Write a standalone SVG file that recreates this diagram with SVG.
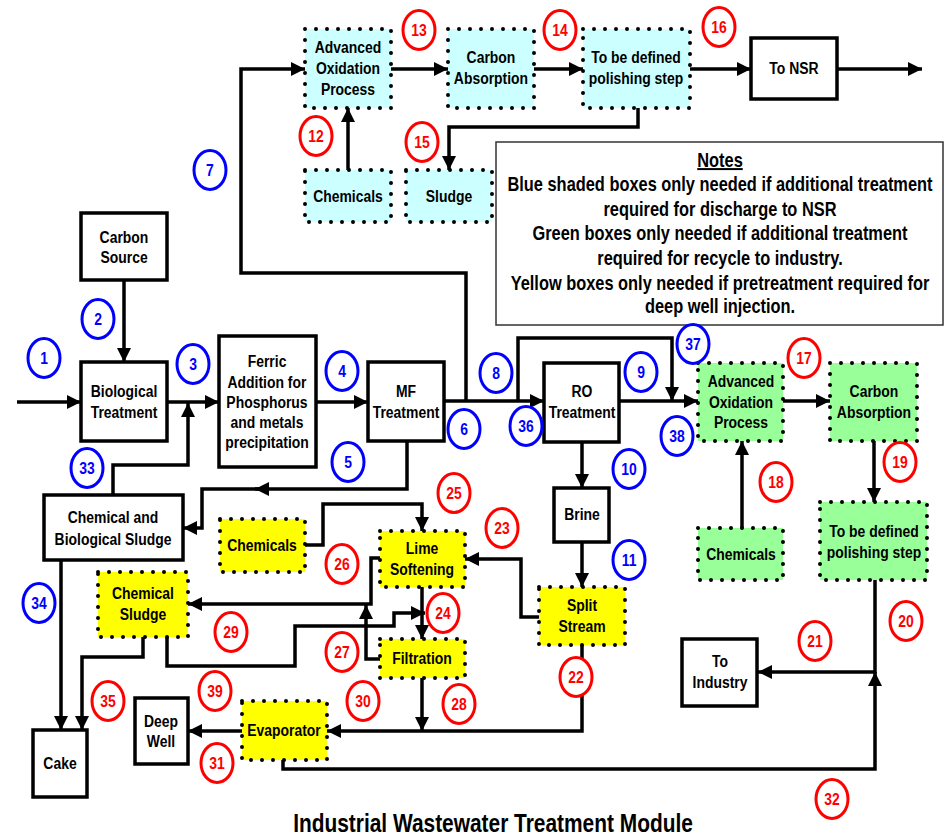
<svg xmlns="http://www.w3.org/2000/svg" width="950" height="839" viewBox="0 0 950 839">
<defs>
<marker id="ah" viewBox="0 0 14 14" refX="14" refY="7" markerWidth="14" markerHeight="14" markerUnits="userSpaceOnUse" orient="auto"><path d="M0,0 L14,7 L0,14 z" fill="#000"/></marker>
</defs>
<style>
.b{fill:#fff;stroke:#000;stroke-width:3.5}
.dot{stroke:#000;stroke-width:4;stroke-linecap:round;stroke-dasharray:0 11}
.cy{fill:#ccffff}
.gr{fill:#99ff99}
.ye{fill:#ffff00}
text{font-family:'Liberation Sans',Arial,sans-serif;font-weight:bold;text-anchor:middle;fill:#000;transform-box:fill-box;transform-origin:50% 50%;transform:scaleX(0.82)}
.t{font-size:17px}
.nt{font-size:20px}
.ttl{font-size:25.5px}
#connectors path{fill:none;stroke:#000;stroke-width:3.5;stroke-linejoin:miter}
.ar{marker-end:url(#ah)}
.lab ellipse{fill:#fff;stroke-width:3}
.lab text{font-size:17px}
.bl ellipse{stroke:#0000ff}
.bl text{fill:#0000ff}
.rd ellipse{stroke:#ff0000}
.rd text{fill:#ff0000}
</style>
<rect width="950" height="839" fill="#fff"/>

<g id="connectors">
<path class="ar" d="M17,402 H81"/>
<path class="ar" d="M124,280 V362"/>
<path class="ar" d="M167,402 H219"/>
<path class="ar" d="M316,402 H368"/>
<path class="ar" d="M444,401 H544"/>
<path class="ar" d="M466,401 V273 H241 V69 H305"/>
<path class="ar" d="M518,401 V338 H672 V401"/>
<path class="ar" d="M619,401 H698"/>
<path class="ar" d="M783,401 H830"/>
<path class="ar" d="M874,441 V502"/>
<path class="ar" d="M742,528 V441"/>
<path class="ar" d="M582,442 V488"/>
<path class="ar" d="M582,542 V587"/>
<path class="ar" d="M875,580 V672 H758"/>
<path class="ar" d="M283,760 V769 H875 V672"/>
<path class="ar" d="M391,69 H448"/>
<path class="ar" d="M534,69 H583"/>
<path class="ar" d="M690,69 H751"/>
<path class="ar" d="M837,69 H922"/>
<path class="ar" d="M348,170 V108"/>
<path class="ar" d="M638,108 V127 H449 V170"/>
<path class="ar" d="M407,441 V489 H255"/>
<path class="ar" d="M258,489 H202 V528 H183"/>
<path class="ar" d="M113,495 V465 H188 V403"/>
<path class="ar" d="M61,560 V730"/>
<path class="ar" d="M143,637 V657 H82 V730"/>
<path class="ar" d="M305,545 H323 V504 H422 V531"/>
<path class="ar" d="M539,617 H521 V559 H465"/>
<path class="ar" d="M422,587 V639"/>
<path class="ar" d="M380,558 H371 V604 H188"/>
<path class="ar" d="M380,659 H366 V605"/>
<path class="ar" d="M167,637 V666 H295 V626 H394 V613 H425"/>
<path class="ar" d="M422,678 V731"/>
<path class="ar" d="M582,645 V731 H327"/>
<path class="ar" d="M242,731 H188"/>
</g>

<g id="aop-blue"><rect class="cy dot" x="305" y="29" width="86" height="79"/><text class="t" x="348" y="53">Advanced</text><text class="t" x="348" y="74">Oxidation</text><text class="t" x="348" y="95">Process</text></g>
<g id="carbon-blue"><rect class="cy dot" x="448" y="29" width="86" height="79"/><text class="t" x="491" y="63">Carbon</text><text class="t" x="491" y="84">Absorption</text></g>
<g id="polish-blue"><rect class="cy dot" x="583" y="29" width="107" height="79"/><text class="t" x="636" y="63">To be defined</text><text class="t" x="636" y="84">polishing step</text></g>
<g id="to-nsr"><rect class="b" x="751" y="38" width="86" height="61"/><text class="t" x="794" y="74">To NSR</text></g>
<g id="chem-blue"><rect class="cy dot" x="305" y="170" width="86" height="52"/><text class="t" x="348" y="202">Chemicals</text></g>
<g id="sludge-blue"><rect class="cy dot" x="406" y="170" width="86" height="52"/><text class="t" x="449" y="202">Sludge</text></g>

<g id="notes"><rect x="496" y="142" width="447" height="183" fill="#fff" stroke="#333" stroke-width="1.5"/>
<text class="nt" x="720" y="167" text-decoration="underline">Notes</text>
<text class="nt" x="720" y="191">Blue shaded boxes only needed if additional treatment</text>
<text class="nt" x="720" y="216">required for discharge to NSR</text>
<text class="nt" x="720" y="240">Green boxes only needed if additional treatment</text>
<text class="nt" x="720" y="265">required for recycle to industry.</text>
<text class="nt" x="720" y="290">Yellow boxes only needed if pretreatment required for</text>
<text class="nt" x="720" y="313">deep well injection.</text></g>

<g id="carbon-source"><rect class="b" x="81" y="213" width="86" height="67"/><text class="t" x="124" y="243">Carbon</text><text class="t" x="124" y="263">Source</text></g>
<g id="bio"><rect class="b" x="81" y="362" width="86" height="79"/><text class="t" x="124" y="397">Biological</text><text class="t" x="124" y="418">Treatment</text></g>
<g id="ferric"><rect class="b" x="219" y="336" width="97" height="131"/><text class="t" x="267" y="367">Ferric</text><text class="t" x="267" y="388">Addition for</text><text class="t" x="267" y="408">Phosphorus</text><text class="t" x="267" y="428">and metals</text><text class="t" x="267" y="448">precipitation</text></g>
<g id="mf"><rect class="b" x="368" y="362" width="76" height="79"/><text class="t" x="406" y="397">MF</text><text class="t" x="406" y="418">Treatment</text></g>
<g id="ro"><rect class="b" x="544" y="363" width="75" height="79"/><text class="t" x="582" y="397">RO</text><text class="t" x="582" y="418">Treatment</text></g>
<g id="brine"><rect class="b" x="554" y="488" width="55" height="54"/><text class="t" x="582" y="520">Brine</text></g>
<g id="aop-green"><rect class="gr dot" x="698" y="363" width="85" height="78"/><text class="t" x="741" y="387">Advanced</text><text class="t" x="741" y="408">Oxidation</text><text class="t" x="741" y="428">Process</text></g>
<g id="carbon-green"><rect class="gr dot" x="830" y="363" width="87" height="78"/><text class="t" x="874" y="397">Carbon</text><text class="t" x="874" y="418">Absorption</text></g>
<g id="chem-green"><rect class="gr dot" x="698" y="528" width="85" height="52"/><text class="t" x="741" y="560">Chemicals</text></g>
<g id="polish-green"><rect class="gr dot" x="820" y="502" width="107" height="78"/><text class="t" x="874" y="537">To be defined</text><text class="t" x="874" y="558">polishing step</text></g>
<g id="split"><rect class="ye dot" x="539" y="587" width="86" height="58"/><text class="t" x="582" y="611">Split</text><text class="t" x="582" y="632">Stream</text></g>
<g id="to-industry"><rect class="b" x="682" y="639" width="75" height="67"/><text class="t" x="720" y="667">To</text><text class="t" x="720" y="688">Industry</text></g>
<g id="cb-sludge"><rect class="b" x="44" y="495" width="139" height="65"/><text class="t" x="113" y="523">Chemical and</text><text class="t" x="113" y="545">Biological Sludge</text></g>
<g id="chem-yellow"><rect class="ye dot" x="220" y="519" width="85" height="53"/><text class="t" x="262" y="551">Chemicals</text></g>
<g id="lime"><rect class="ye dot" x="380" y="531" width="85" height="56"/><text class="t" x="422" y="554">Lime</text><text class="t" x="422" y="575">Softening</text></g>
<g id="chem-sludge"><rect class="ye dot" x="98" y="572" width="90" height="65"/><text class="t" x="143" y="599">Chemical</text><text class="t" x="143" y="620">Sludge</text></g>
<g id="filtration"><rect class="ye dot" x="380" y="639" width="85" height="39"/><text class="t" x="422" y="664">Filtration</text></g>
<g id="evaporator"><rect class="ye dot" x="242" y="701" width="85" height="59"/><text class="t" x="284" y="736">Evaporator</text></g>
<g id="deep-well"><rect class="b" x="135" y="698" width="53" height="66"/><text class="t" x="161" y="727">Deep</text><text class="t" x="161" y="747">Well</text></g>
<g id="cake"><rect class="b" x="33" y="730" width="54" height="67"/><text class="t" x="60" y="769">Cake</text></g>

<g id="stream-labels" class="lab">
<g class="bl"><ellipse cx="44" cy="358" rx="16" ry="19.5"/><text x="44" y="364">1</text></g>
<g class="bl"><ellipse cx="98" cy="319" rx="16" ry="19.5"/><text x="98" y="325">2</text></g>
<g class="bl"><ellipse cx="193" cy="364" rx="16" ry="19.5"/><text x="193" y="370">3</text></g>
<g class="bl"><ellipse cx="342" cy="371" rx="16" ry="19.5"/><text x="342" y="377">4</text></g>
<g class="bl"><ellipse cx="348" cy="462" rx="16" ry="19.5"/><text x="348" y="468">5</text></g>
<g class="bl"><ellipse cx="464" cy="429" rx="16" ry="19.5"/><text x="464" y="435">6</text></g>
<g class="bl"><ellipse cx="210" cy="170" rx="16" ry="19.5"/><text x="210" y="176">7</text></g>
<g class="bl"><ellipse cx="496" cy="373" rx="16" ry="19.5"/><text x="496" y="379">8</text></g>
<g class="bl"><ellipse cx="641" cy="372" rx="16" ry="19.5"/><text x="641" y="378">9</text></g>
<g class="bl"><ellipse cx="629" cy="469" rx="16" ry="19.5"/><text x="629" y="475">10</text></g>
<g class="bl"><ellipse cx="629" cy="560" rx="16" ry="19.5"/><text x="629" y="566">11</text></g>
<g class="bl"><ellipse cx="87" cy="468" rx="16" ry="19.5"/><text x="87" y="474">33</text></g>
<g class="bl"><ellipse cx="39" cy="603" rx="16" ry="19.5"/><text x="39" y="609">34</text></g>
<g class="bl"><ellipse cx="526" cy="426" rx="16" ry="19.5"/><text x="526" y="432">36</text></g>
<g class="bl"><ellipse cx="693" cy="344" rx="16" ry="19.5"/><text x="693" y="350">37</text></g>
<g class="bl"><ellipse cx="677" cy="436" rx="16" ry="19.5"/><text x="677" y="442">38</text></g>
<g class="rd"><ellipse cx="316" cy="136" rx="16" ry="19.5"/><text x="316" y="142">12</text></g>
<g class="rd"><ellipse cx="419" cy="30" rx="16" ry="19.5"/><text x="419" y="36">13</text></g>
<g class="rd"><ellipse cx="560" cy="30" rx="16" ry="19.5"/><text x="560" y="36">14</text></g>
<g class="rd"><ellipse cx="422" cy="142" rx="16" ry="19.5"/><text x="422" y="148">15</text></g>
<g class="rd"><ellipse cx="719" cy="27" rx="16" ry="19.5"/><text x="719" y="33">16</text></g>
<g class="rd"><ellipse cx="804" cy="358" rx="16" ry="19.5"/><text x="804" y="364">17</text></g>
<g class="rd"><ellipse cx="776" cy="482" rx="16" ry="19.5"/><text x="776" y="488">18</text></g>
<g class="rd"><ellipse cx="900" cy="462" rx="16" ry="19.5"/><text x="900" y="468">19</text></g>
<g class="rd"><ellipse cx="906" cy="621" rx="16" ry="19.5"/><text x="906" y="627">20</text></g>
<g class="rd"><ellipse cx="815" cy="641" rx="16" ry="19.5"/><text x="815" y="647">21</text></g>
<g class="rd"><ellipse cx="576" cy="677" rx="16" ry="19.5"/><text x="576" y="683">22</text></g>
<g class="rd"><ellipse cx="502" cy="528" rx="16" ry="19.5"/><text x="502" y="534">23</text></g>
<g class="rd"><ellipse cx="443" cy="613" rx="16" ry="19.5"/><text x="443" y="619">24</text></g>
<g class="rd"><ellipse cx="454" cy="493" rx="16" ry="19.5"/><text x="454" y="499">25</text></g>
<g class="rd"><ellipse cx="342" cy="564" rx="16" ry="19.5"/><text x="342" y="570">26</text></g>
<g class="rd"><ellipse cx="342" cy="652" rx="16" ry="19.5"/><text x="342" y="658">27</text></g>
<g class="rd"><ellipse cx="459" cy="704" rx="16" ry="19.5"/><text x="459" y="710">28</text></g>
<g class="rd"><ellipse cx="231" cy="632" rx="16" ry="19.5"/><text x="231" y="638">29</text></g>
<g class="rd"><ellipse cx="363" cy="701" rx="16" ry="19.5"/><text x="363" y="707">30</text></g>
<g class="rd"><ellipse cx="217" cy="763" rx="16" ry="19.5"/><text x="217" y="769">31</text></g>
<g class="rd"><ellipse cx="832" cy="799" rx="16" ry="19.5"/><text x="832" y="805">32</text></g>
<g class="rd"><ellipse cx="108" cy="701" rx="16" ry="19.5"/><text x="108" y="707">35</text></g>
<g class="rd"><ellipse cx="215" cy="691" rx="16" ry="19.5"/><text x="215" y="697">39</text></g>
</g>

<text id="title" class="ttl" x="493" y="832">Industrial Wastewater Treatment Module</text>
</svg>
